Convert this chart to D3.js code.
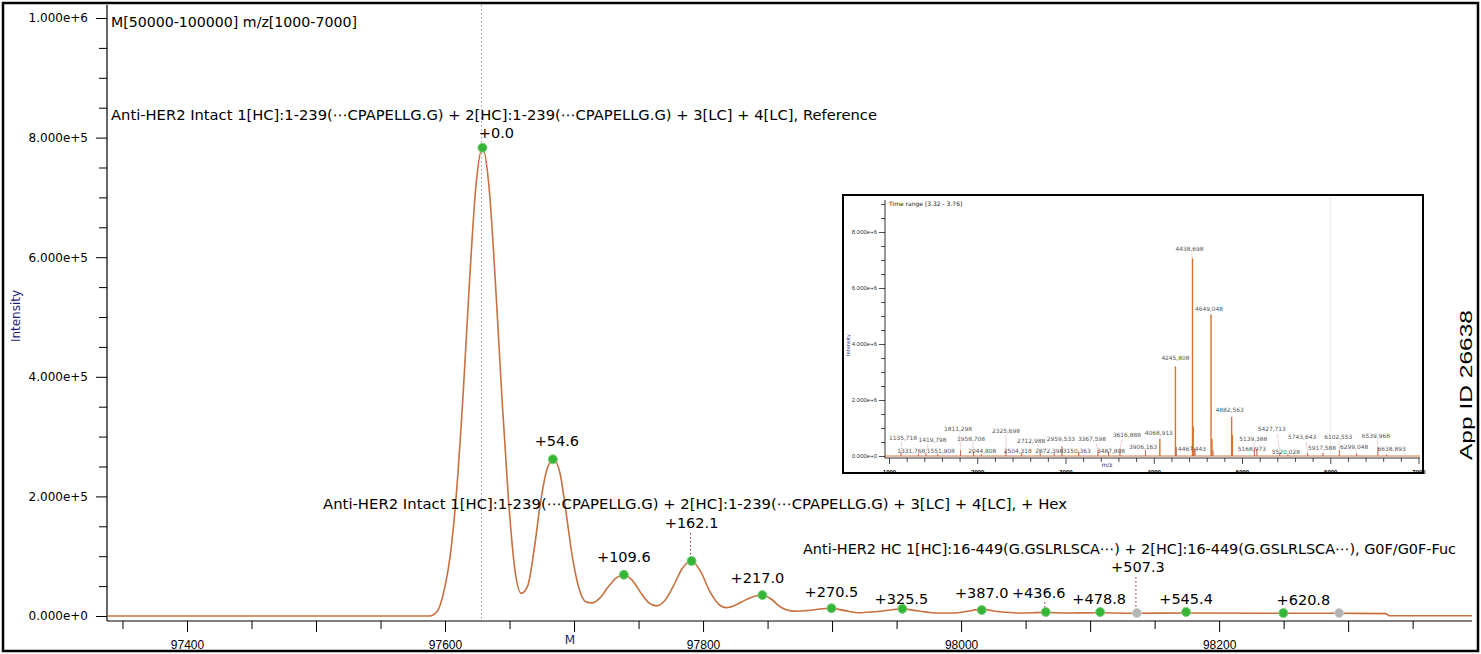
<!DOCTYPE html>
<html>
<head>
<meta charset="utf-8">
<script src="https://cdn.jsdelivr.net/npm/d3@7"></script>
<style>
  body { margin: 0; background: #fff; }
  svg { display: block; font-family: 'DejaVu Sans', sans-serif; }
</style>
</head>
<body>
<div id="chart"></div>
<script>
/* Global variables */
const width = 1481;
const height = 654;

// Deconvoluted trace, [mass, intensity]
const trace = [
  [97338, 0], [97588, 0], [97594, 8000], [97599, 40000], [97604, 100000],
  [97609, 210000], [97614, 370000], [97619, 560000], [97624, 720000],
  [97629, 783000], [97634, 720000], [97639, 560000], [97644, 370000],
  [97649, 200000], [97654, 80000], [97659, 38000], [97664, 50000],
  [97669, 110000], [97674, 190000], [97679, 245000], [97684, 262000],
  [97689, 240000], [97694, 170000], [97699, 95000], [97704, 45000],
  [97709, 24000], [97714, 22000], [97720, 30000], [97727, 50000],
  [97733, 64000], [97739, 69000], [97745, 60000], [97752, 38000],
  [97758, 22000], [97764, 17000], [97770, 25000], [97777, 50000],
  [97784, 80000], [97791, 92000], [97798, 75000], [97805, 42000],
  [97812, 20000], [97818, 14000], [97825, 18000], [97833, 27000],
  [97840, 33000], [97846, 35000], [97853, 28000], [97860, 15000],
  [97867, 9000], [97873, 8000], [97880, 9000], [97888, 11000],
  [97899, 13000], [97910, 9000], [97921, 5500], [97932, 7000],
  [97945, 10000], [97954, 12000], [97965, 9000], [97980, 5000],
  [97995, 5000], [98005, 8000], [98016, 11000], [98030, 7000],
  [98045, 5000], [98065, 6000], [98080, 5000], [98108, 5500],
  [98136, 4500], [98175, 5000], [98250, 4500], [98293, 4500],
  [98329, 4000], [98332, 500], [98396, 500],
];

// Annotated peaks: mass shift from the reference mass, intensity, matched or not
const baseMass = 97629;
const peakDelta = [0.0, 54.6, 109.6, 162.1, 217.0, 270.5, 325.5, 387.0, 436.6, 478.8, 507.3, 545.4, 620.8, 664.0];
const peakIntensity = [783000, 262000, 69000, 92000, 35000, 13000, 12000, 10000, 6700, 6700, 5000, 6700, 5000, 5000];
const peakMatched = [true, true, true, true, true, true, true, true, true, true, false, true, true, false];
const peakLabeled = [true, true, true, true, true, true, true, true, true, true, true, true, true, false];

// Identification labels
const titleText = 'M[50000-100000] m/z[1000-7000]';
const assignLabels = [
  'Anti-HER2 Intact 1[HC]:1-239(\u22EFCPAPELLG.G) + 2[HC]:1-239(\u22EFCPAPELLG.G) + 3[LC] + 4[LC], Reference',
  'Anti-HER2 Intact 1[HC]:1-239(\u22EFCPAPELLG.G) + 2[HC]:1-239(\u22EFCPAPELLG.G) + 3[LC] + 4[LC], + Hex',
  'Anti-HER2 HC 1[HC]:16-449(G.GSLRLSCA\u22EF) + 2[HC]:16-449(G.GSLRLSCA\u22EF), G0F/G0F-Fuc',
];

// Inset raw spectrum: labelled sticks [m/z, intensity]
const insetMz = [1135.718, 1331.768, 1419.798, 1551.908, 1811.298, 1958.708, 2044.808, 2325.698,
  2504.318, 2712.988, 2872.398, 2959.533, 3150.363, 3367.598, 3487.808, 3616.888, 3906.163,
  4068.913, 4245.808, 4438.698, 4467.443, 4649.048, 4882.563, 5139.388, 5168.973, 5427.713,
  5520.028, 5743.643, 5917.588, 6102.553, 6299.048, 6539.968, 6638.893];
const insetInt = [120000, 80000, 100000, 80000, 200000, 150000, 80000, 200000,
  100000, 120000, 100000, 350000, 150000, 200000, 150000, 250000, 200000,
  620000, 3200000, 7050000, 250000, 5050000, 1400000, 300000, 250000, 100000,
  50000, 100000, 120000, 200000, 100000, 300000, 50000];
// unlabelled shoulder sticks
const insetExtraMz = [4255, 4447, 4456, 4660, 4672, 4890];
const insetExtraInt = [320000, 1050000, 300000, 620000, 200000, 750000];

// ---- layout ----
const x = d3.scaleLinear().domain([97338, 98396]).range([107, 1472]);
const y = d3.scaleLinear().domain([0, 1e6]).range([616, 18]);
const axisY = 621;

const svg = d3
  .select('#chart')
  .append('svg')
  .attr('width', width)
  .attr('height', height)
  .attr('viewBox', '0 0 ' + width + ' ' + height);

svg.append('rect').attr('width', width).attr('height', height).attr('fill', '#fff');

// reference mass marker
svg.append('line')
  .attr('x1', x(baseMass) - 1).attr('x2', x(baseMass) - 1)
  .attr('y1', 5).attr('y2', axisY)
  .attr('stroke', '#999').attr('stroke-width', 1).attr('stroke-dasharray', '1.5,2.5');

// Y axis
const yAxis = d3.axisLeft(y)
  .tickValues(d3.range(0, 1e6 + 1, 5e4))
  .tickFormat((d) => (d % 2e5 === 0 ? d3.format('.3e')(d) : ''))
  .tickSizeOuter(0);
const gy = svg.append('g').attr('transform', 'translate(107,0)').call(yAxis);
gy.select('.domain').remove();
gy.selectAll('.tick line')
  .attr('x2', (d) => (d % 2e5 === 0 ? -11 : -8))
  .attr('stroke', '#000');
gy.selectAll('.tick text')
  .attr('x', -19)
  .style('font-family', 'DejaVu Sans')
  .style('font-size', '12px')
  .attr('fill', '#000');
svg.append('line').attr('x1', 107).attr('x2', 107).attr('y1', 5).attr('y2', axisY)
  .attr('stroke', '#000').attr('stroke-width', 1.2);

// X axis
const xAxis = d3.axisBottom(x)
  .tickValues(d3.range(97350, 98396, 50))
  .tickFormat((d) => (d % 200 === 0 ? d : ''))
  .tickSizeOuter(0);
const gx = svg.append('g').attr('transform', `translate(0,${axisY})`).call(xAxis);
gx.select('.domain').remove();
gx.selectAll('.tick line')
  .attr('y2', (d) => (d % 100 === 0 ? 11 : 8))
  .attr('stroke', '#000');
gx.selectAll('.tick text')
  .attr('y', 19)
  .style('font-family', 'Liberation Sans')
  .style('font-size', '12px')
  .attr('fill', '#000');
svg.append('line').attr('x1', 107).attr('x2', 1472).attr('y1', axisY).attr('y2', axisY)
  .attr('stroke', '#000').attr('stroke-width', 1.2);

// axis titles
svg.append('text')
  .attr('transform', 'translate(20,316) rotate(-90)')
  .attr('text-anchor', 'middle')
  .style('font-size', '12px')
  .attr('fill', '#1c1c78')
  .text('Intensity');
svg.append('text')
  .attr('x', 570).attr('y', 644)
  .attr('text-anchor', 'middle')
  .style('font-size', '12px')
  .attr('fill', '#1c1c78')
  .text('M');

// trace
const line = d3.line()
  .x((d) => x(d[0]))
  .y((d) => y(d[1]))
  .curve(d3.curveMonotoneX);
svg.append('path')
  .datum(trace)
  .attr('d', line)
  .attr('fill', 'none')
  .attr('stroke', '#c8703f')
  .attr('stroke-width', 1.6);

// peak label nudges [dx, dy] relative to the marker
const nudge = {
  '+0.0': [14, -10], '+54.6': [4, -13], '+109.6': [0, -13], '+162.1': [0, -33],
  '+217.0': [-5, -12], '+270.5': [0, -11], '+325.5': [-1, -5], '+387.0': [0, -12],
  '+436.6': [-7, -14], '+478.8': [-1, -8], '+507.3': [1, -41], '+545.4': [0, -8],
  '+620.8': [20, -8],
};
const leaders = { '+162.1': [-28, -4], '+507.3': [-36, -2], '+436.6': [-10, -2], '+387.0': [-4, -1], '+0.0': [-4, -1] };

const peaks = peakDelta.map((d, i) => ({
  mass: baseMass + d,
  value: peakIntensity[i],
  matched: peakMatched[i],
  label: peakLabeled[i] ? '+' + d.toFixed(1) : null,
}));

// dotted leaders
peaks.filter((p) => p.label && leaders[p.label]).forEach((p) => {
  const l = leaders[p.label];
  svg.append('line')
    .attr('x1', x(p.mass) - 1).attr('x2', x(p.mass) - 1)
    .attr('y1', y(p.value) + l[0] + 0).attr('y2', y(p.value) + l[1])
    .attr('stroke', '#8b2b2b').attr('stroke-width', 1).attr('stroke-dasharray', '1.5,2.5');
});

svg.append('g')
  .selectAll('circle')
  .data(peaks)
  .join('circle')
  .attr('cx', (d) => x(d.mass))
  .attr('cy', (d) => y(d.value))
  .attr('r', 4.5)
  .attr('fill', (d) => (d.matched ? '#35b535' : '#b4b4b4'))
  .attr('stroke', (d) => (d.matched ? '#7fcf7f' : '#d0d0d0'))
  .attr('stroke-width', 1);

svg.append('g')
  .selectAll('text')
  .data(peaks.filter((p) => p.label))
  .join('text')
  .attr('x', (d) => x(d.mass) + nudge[d.label][0])
  .attr('y', (d) => y(d.value) + nudge[d.label][1])
  .attr('text-anchor', 'middle')
  .style('font-size', '14.5px')
  .attr('fill', '#000')
  .text((d) => d.label);

// titles and assignments
svg.append('text').attr('x', 111).attr('y', 27)
  .style('font-size', '14px').attr('textLength', 246).attr('lengthAdjust', 'spacingAndGlyphs')
  .text(titleText);
const assignPos = [[111, 120, 766], [323, 509, 744], [803, 554, 653]];
assignLabels.forEach((t, i) => {
  svg.append('text')
    .attr('x', assignPos[i][0]).attr('y', assignPos[i][1])
    .style('font-size', '14.5px')
    .attr('textLength', assignPos[i][2]).attr('lengthAdjust', 'spacingAndGlyphs')
    .text(t);
});

// ---- inset ----
const inset = svg.append('g');
inset.append('rect')
  .attr('x', 843).attr('y', 195).attr('width', 580).attr('height', 278)
  .attr('fill', '#fff').attr('stroke', '#000').attr('stroke-width', 2);

const ix = d3.scaleLinear().domain([1000, 7000]).range([889, 1418.5]);
const iy = d3.scaleLinear().domain([0, 8e6]).range([456, 232]);
const iAxisY = 458;

inset.append('line')
  .attr('x1', ix(6000)).attr('x2', ix(6000)).attr('y1', 198).attr('y2', iy(0))
  .attr('stroke', '#ccc').attr('stroke-dasharray', '1,1.5');

const iyAxis = d3.axisLeft(iy)
  .tickValues(d3.range(0, 9e6 + 1, 5e5))
  .tickFormat((d) => (d % 2e6 === 0 ? d3.format('.3e')(d) : ''))
  .tickSizeOuter(0);
const giy = inset.append('g').attr('transform', 'translate(885,0)').call(iyAxis);
giy.select('.domain').remove();
giy.selectAll('.tick line').attr('x2', (d) => (d % 2e6 === 0 ? -6 : -4)).attr('stroke', '#000').attr('stroke-width', 0.7);
giy.selectAll('.tick text').attr('x', -8).style('font-size', '6px').attr('fill', '#333');
inset.append('line').attr('x1', 885).attr('x2', 885).attr('y1', 200).attr('y2', iAxisY).attr('stroke', '#000').attr('stroke-width', 0.8);

const ixAxis = d3.axisBottom(ix)
  .tickValues(d3.range(1000, 7001, 200))
  .tickFormat((d) => (d % 1000 === 0 ? d : ''))
  .tickSizeOuter(0);
const gix = inset.append('g').attr('transform', `translate(0,${iAxisY})`).call(ixAxis);
gix.select('.domain').remove();
gix.selectAll('.tick line').attr('y2', (d) => (d % 1000 === 0 ? 6 : 4)).attr('stroke', '#000').attr('stroke-width', 0.7);
gix.selectAll('.tick text').attr('y', 12).style('font-size', '6px').style('font-weight', 'bold').attr('fill', '#000');
inset.append('line').attr('x1', 885).attr('x2', 1420).attr('y1', iAxisY).attr('y2', iAxisY).attr('stroke', '#000').attr('stroke-width', 0.8);

inset.append('text').attr('x', 889).attr('y', 206).style('font-size', '6px').attr('fill', '#222').text('Time range [3.32 - 3.76]');
inset.append('text').attr('transform', 'translate(850,345) rotate(-90)').attr('text-anchor', 'middle')
  .style('font-size', '5px').attr('fill', '#1c1c78').text('Intensity');
inset.append('text').attr('x', 1107).attr('y', 467).attr('text-anchor', 'middle')
  .style('font-size', '6px').attr('fill', '#1c1c78').text('m/z');

// baseline
inset.append('line').attr('x1', 885).attr('x2', 1420).attr('y1', iy(0)).attr('y2', iy(0))
  .attr('stroke', '#d07a45').attr('stroke-width', 1);

const sticks = insetMz.map((m, i) => [m, insetInt[i]])
  .concat(insetExtraMz.map((m, i) => [m, insetExtraInt[i]]));
inset.append('g')
  .selectAll('line')
  .data(sticks)
  .join('line')
  .attr('x1', (d) => ix(d[0])).attr('x2', (d) => ix(d[0]))
  .attr('y1', iy(0)).attr('y2', (d) => iy(d[1]))
  .attr('stroke', (d) => (d[1] > 500000 ? '#d9702c' : '#c0604a'))
  .attr('stroke-width', (d) => (d[1] > 500000 ? 1.4 : 1));

// label nudges [dx, dy] for the inset sticks
const insetNudge = [[2, -13], [-7, -1], [6.5, -11], [3, -1], [-2.6, -19], [-2.6, -11], [1, -1], [0, -17],
  [-4, 0], [-9, -10], [-5, 0], [-1, -5], [-2, 1], [-6, -9], [2.5, 1], [7, -12], [-2.5, -1],
  [-1, -4], [0, -6], [-3, -8], [-3, 2], [-2, -4], [-2, -5], [-1, -7], [-5, 2], [-8, -22],
  [-2, -1], [-5.5, -14], [-1, -3], [-1, -11], [-2.5, -4], [-2, -10], [5, -4]];

insetMz.forEach((m, i) => {
  const px = ix(m), py = iy(insetInt[i]);
  const n = insetNudge[i];
  if (n[1] < -6) {
    inset.append('line')
      .attr('x1', px).attr('x2', px + n[0] * 0.3).attr('y1', py).attr('y2', py + n[1] + 2)
      .attr('stroke', '#c44').attr('stroke-width', 0.6).attr('stroke-dasharray', '0.8,1.2');
  }
  inset.append('text')
    .attr('x', px + n[0]).attr('y', py + n[1])
    .attr('text-anchor', 'middle')
    .style('font-size', '5.9px')
    .attr('fill', '#555')
    .text(d3.format('.3f')(m).replace('.', ','));
});

// side note
svg.append('text')
  .attr('transform', 'translate(1472,385) rotate(-90)')
  .attr('text-anchor', 'middle')
  .style('font-family', 'Liberation Sans')
  .style('font-size', '17px')
  .attr('textLength', 150).attr('lengthAdjust', 'spacingAndGlyphs')
  .text('App ID 26638');

// outer frame
svg.append('rect')
  .attr('x', 3).attr('y', 3).attr('width', 1475).attr('height', 648)
  .attr('fill', 'none').attr('stroke', '#000').attr('stroke-width', 2.5);
</script>
</body>
</html>
